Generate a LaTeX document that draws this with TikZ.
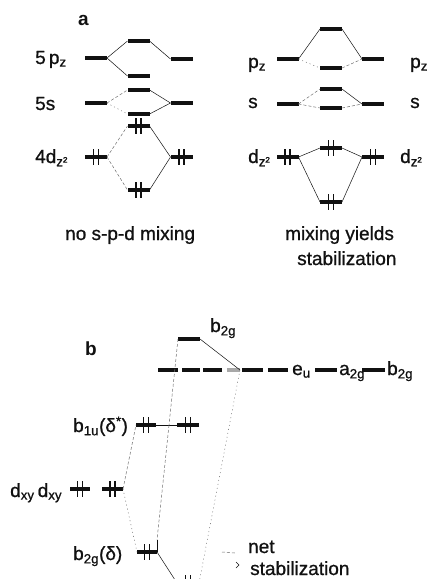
\documentclass[tikz,border=0pt]{standalone}
\usepackage{fontspec}
\setmainfont{Liberation Sans}[UprightFeatures={FakeBold=0.9}]
\usetikzlibrary{positioning}
\definecolor{orbInk}{HTML}{111111}
\definecolor{orbGray}{HTML}{6E6E6E}
\definecolor{orbPale}{HTML}{A8A8A8}
\tikzset{
  every picture/.style={font=\fontsize{19}{20}\selectfont, text=orbInk},
  orb level/.style={fill=orbInk, minimum width=22pt, minimum height=3.5pt,
    inner sep=0pt, outer sep=0pt},
  orb pale/.style={orb level, fill=orbPale},
  orb text/.style={inner sep=0pt, anchor=base west},
  orb link/.style={draw=orbInk, line width=0.5pt},
  orb faint/.style={draw=orbGray, line width=0.5pt, dash pattern=on 3pt off 2pt},
  orb dotted/.style={draw=orbGray, line width=0.5pt, dash pattern=on 1pt off 3pt},
  orb spin/.style={draw=orbInk, line width=1.5pt}
}
\begin{document}
\begin{tikzpicture}[x=1pt,y=-1pt]
  \useasboundingbox (0,0) rectangle (430,579);
  \clip (0,0) rectangle (430,579);
  % panel a, left: no mixing
  \node[orb text] (lbA) at (78,25) {\bfseries a};
  \node[orb text] (lbP) at (35,64) {5\,p\textsubscript{z}};
  \node[orb text] (lbS) at (35,110) {5s};
  \node[orb text] (lbD) at (35,163) {4d\textsubscript{z²}};
  \node[orb level] (aPL) at (96,58) {};
  \node[orb level] (aPU) at (138.5,41) {};
  \node[orb level] (aPD) at (138.5,76) {};
  \node[orb level] (aPR) at (181.5,59) {};
  \node[orb level] (aSL) at (96,103) {};
  \node[orb level] (aSU) at (138.5,90) {};
  \node[orb level] (aSD) at (138.5,114) {};
  \node[orb level] (aSR) at (181.5,103) {};
  \node[orb level] (aDL) at (96,157) {};
  \node[orb level] (aDU) at (138.5,126) {};
  \node[orb level] (aDD) at (138.5,190) {};
  \node[orb level] (aDR) at (181.5,157) {};
  \draw[orb link] (aPL.east) -- (aPU.west);
  \draw[orb link] (aPL.east) -- (aPD.west);
  \draw[orb link] (aPU.east) -- (aPR.west);
  \draw[orb faint] (aSL.east) -- (aSU.west);
  \draw[orb dotted] (aSL.east) -- (aSD.west);
  \draw[orb link] (aSU.east) -- (aSR.west);
  \draw[orb link] (aSD.east) -- (aSR.west);
  \draw[orb faint] (aDL.east) -- (aDU.west);
  \draw[orb faint] (aDL.east) -- (aDD.west);
  \draw[orb link] (aDU.east) -- (aDR.west);
  \draw[orb link] (aDD.east) -- (aDR.west);
  \node[orb text] (capA) at (65,240) {no s-p-d mixing};

  % panel a, right: mixing
  \node[orb text] (mPzA) at (248,68) {p\textsubscript{z}};
  \node[orb text] (mPzB) at (410,68) {p\textsubscript{z}};
  \node[orb text] (mSA) at (248,108) {s};
  \node[orb text] (mSB) at (410,108) {s};
  \node[orb text] (mDA) at (248,163) {d\textsubscript{z²}};
  \node[orb text] (mDB) at (400,163) {d\textsubscript{z²}};
  \node[orb level] (mPL) at (287.5,59) {};
  \node[orb level] (mPU) at (331,29) {};
  \node[orb level] (mPD) at (331,68) {};
  \node[orb level] (mPR) at (373,59) {};
  \node[orb level] (mSL) at (287.5,104) {};
  \node[orb level] (mSU) at (331,89) {};
  \node[orb level] (mSD) at (331,108) {};
  \node[orb level] (mSR) at (373,104) {};
  \node[orb level] (mDL) at (287.5,157) {};
  \node[orb level] (mDU) at (331,148) {};
  \node[orb level] (mDD) at (331,202) {};
  \node[orb level] (mDR) at (373,157) {};
  \draw[orb link] (mPL.east) -- (mPU.west);
  \draw[orb link] (mPU.east) -- (mPR.west);
  \draw[orb dotted] (mPL.east) -- (mPD.west);
  \draw[orb faint] (mPD.east) -- (mPR.west);
  \draw[orb faint] (mSL.east) -- (mSU.west);
  \draw[orb faint] (mSL.east) -- (mSD.west);
  \draw[orb link] (mSU.east) -- (mSR.west);
  \draw[orb faint] (mSD.east) -- (mSR.west);
  \draw[orb link] (mDL.east) -- (mDU.west);
  \draw[orb link] (mDL.east) -- (mDD.west);
  \draw[orb link] (mDU.east) -- (mDR.west);
  \draw[orb link] (mDD.east) -- (mDR.west);
  \node[orb text] (capB) at (285,240) {mixing yields};
  \node[orb text] (capC) at (297,265) {stabilization};

  % panel b
  \node[orb text] (lbB) at (85,355) {\bfseries b};
  \node[orb text] (lbTop) at (210,332) {b\textsubscript{2g}};
  \node[orb text] (lbEu) at (292,375) {e\textsubscript{u}};
  \node[orb text] (lbAg) at (339,375) {a\textsubscript{2g}};
  \node[orb text] (lbBg) at (387,375) {b\textsubscript{2g}};
  \node[orb text] (lbBu) at (73,432) {b\textsubscript{1u}(δ\textsuperscript{*})};
  \node[orb text] (lbDxy) at (10,497) {d\textsubscript{xy}\,d\textsubscript{xy}};
  \node[orb text] (lbBd) at (73,560) {b\textsubscript{2g}(δ)};
  \node[orb text] (lbNet) at (248,553) {net};
  \node[orb text] (lbStab) at (250,575) {stabilization};
  \node[orb level] (tB2g) at (189,339) {};
  \node[orb level, minimum width=20pt] (r1) at (168,370) {};
  \node[orb level, minimum width=18pt] (r2) at (191,370) {};
  \node[orb level, minimum width=19pt] (r3) at (212.5,370) {};
  \node[orb pale, minimum width=13pt] (rG) at (233.5,370) {};
  \node[orb level, minimum width=21pt] (r4) at (252.5,370) {};
  \node[orb level, minimum width=20pt] (r5) at (278,370) {};
  \node[orb level] (r6) at (326,370) {};
  \node[orb level, minimum width=23pt] (r7) at (373.5,370) {};
  \node[orb level, minimum width=20pt] (b1uA) at (146,425) {};
  \node[orb level] (b1uB) at (188,425) {};
  \node[orb level, minimum width=20pt] (dxyA) at (80,489) {};
  \node[orb level, minimum width=21pt] (dxyB) at (112.5,489) {};
  \node[orb level, minimum width=20pt] (b2gD) at (147,552) {};
  \node[orb level] (lowB) at (188,583) {};
  \coordinate (b1uMid) at (169,425);
  \coordinate (b2gTick) at (157,540);
  \coordinate (netA) at (222,552);
  \coordinate (netB) at (235,553);
  \draw[orb link] (b1uA.east) -- (b1uB.west);
  \draw[orb faint] (dxyB.east) -- (b1uA.west);
  \draw[orb dotted] (dxyB.east) -- (b2gD.west);
  \draw[orb faint] (tB2g.west) -- (b1uMid);
  \draw[orb faint] (b1uMid) -- (b2gTick);
  \draw[orb link] (b2gTick) -- (b2gD.east);
  \draw[orb link] (tB2g.east) -- (rG.east);
  \draw[orb dotted] (rG.east) -- (lowB.east);
  \draw[orb link] (b2gD.east) -- (lowB.west);
  \draw[orb faint] (netA) -- (netB);
  \draw[orb link] (236,562) -- (239,565) -- (236,568);

  % electron pairs
  \foreach \n in {aDL,aDU,aDD,aDR,mDL,mDU,mDD,mDR,b1uA,b1uB,dxyA,dxyB,b2gD,lowB} {
    \draw[orb spin] ([xshift=-2.5pt,yshift=8pt]\n.center) -- ++(0,16);
    \draw[orb spin] ([xshift=2.5pt,yshift=8pt]\n.center) -- ++(0,16);
  }
\end{tikzpicture}
\end{document}
